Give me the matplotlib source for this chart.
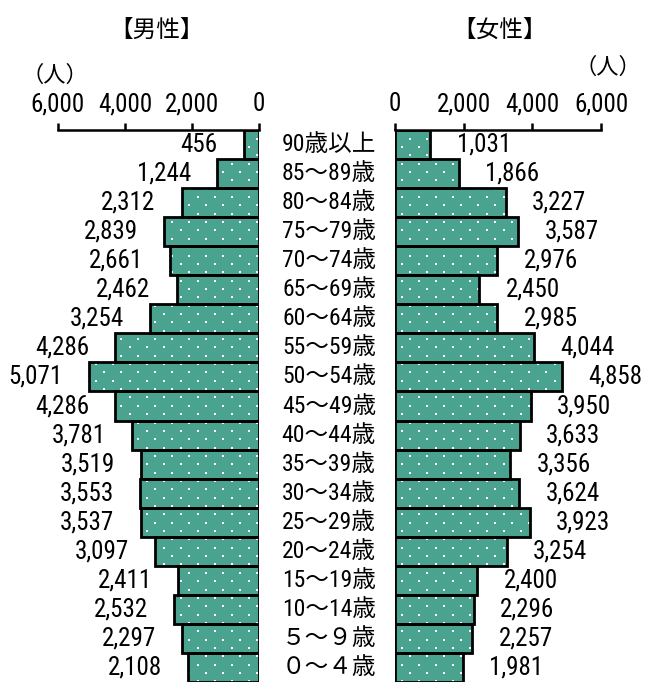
import matplotlib
matplotlib.use("Agg")
import matplotlib.pyplot as plt
import numpy as np
from matplotlib import font_manager
from matplotlib.path import Path
from matplotlib.transforms import IdentityTransform

available = {f.name for f in font_manager.fontManager.ttflist}
num_font = None
for cand in ["Liberation Sans Narrow", "DejaVu Sans Condensed", "Roboto Condensed"]:
    if cand in available:
        num_font = cand
        break
FAM = ([num_font] if num_font else []) + ["Noto Sans CJK JP", "DejaVu Sans"]
plt.rcParams['font.family'] = FAM

age_groups = ["90歳以上", "85～89歳", "80～84歳", "75～79歳", "70～74歳", "65～69歳",
              "60～64歳", "55～59歳", "50～54歳", "45～49歳", "40～44歳", "35～39歳",
              "30～34歳", "25～29歳", "20～24歳", "15～19歳", "10～14歳", "５～９歳", "０～４歳"]
male = [456, 1244, 2312, 2839, 2661, 2462, 3254, 4286, 5071, 4286, 3781, 3519,
        3553, 3537, 3097, 2411, 2532, 2297, 2108]
female = [1031, 1866, 3227, 3587, 2976, 2450, 2985, 4044, 4858, 3950, 3633, 3356,
          3624, 3923, 3254, 2400, 2296, 2257, 1981]
ticks = [0, 2000, 4000, 6000]
tick_labels = ["0", "2,000", "4,000", "6,000"]

W, H = 647, 684
fig = plt.figure(figsize=(W / 100, H / 100), dpi=100)

GREEN = "#4aa38e"
FS = 18 if num_font else 16
CJK_FS = 16

def px(x, y):
    return x / W, 1 - y / H

y_top, y_bot = 130, 682
axL = fig.add_axes([58 / W, (H - y_bot) / H, 201 / W, (y_bot - y_top) / H])
axR = fig.add_axes([395 / W, (H - y_bot) / H, 206 / W, (y_bot - y_top) / H])

n = len(age_groups)
pos = list(range(n))

# dot texture lattice in display pixels (staggered rows)
dx, dy = 17.0, 8.35
rows = np.arange(0, H / dy + 1)
lat_x, lat_y = [], []
for r in rows:
    off = (dx / 2) if int(r) % 2 else 0.0
    xs = np.arange(off + 2, W, dx)
    lat_x.extend(xs)
    lat_y.extend(np.full(len(xs), H - (5 + r * dy)))
lat_x = np.array(lat_x)
lat_y = np.array(lat_y)

for ax, vals, side in [(axL, male, "L"), (axR, female, "R")]:
    bars = ax.barh(pos, vals, height=1.0, color=GREEN, linewidth=0)
    ax.set_xlim(0, 6000)
    ax.set_ylim(n - 0.5, -0.5)
    if side == "L":
        ax.invert_xaxis()
    paths = [p.get_path().transformed(p.get_patch_transform()) for p in bars]
    clip = Path.make_compound_path(*paths)
    dots = ax.scatter(lat_x, lat_y, s=2.8, marker="s", c="white", linewidths=0,
                      transform=IdentityTransform(), zorder=2)
    dots.set_clip_path(clip, ax.transData)
    ax.barh(pos, vals, height=1.0, fill=False, edgecolor="black", linewidth=2, zorder=3)
    if side == "L":
        ax.set_xlim(6000, 0)
    else:
        ax.set_xlim(0, 6000)
    ax.set_ylim(n - 0.5, -0.5)
    for s in ["left", "right", "bottom"]:
        ax.spines[s].set_visible(False)
    ax.spines["top"].set_linewidth(1.8)
    ax.xaxis.tick_top()
    ax.set_xticks(ticks)
    ax.set_xticklabels(tick_labels, fontsize=FS)
    ax.tick_params(axis="x", direction="out", length=5, width=1.8, pad=5)
    ax.set_yticks([])
    ax.patch.set_alpha(0)
    for i, v in enumerate(vals):
        label = f"{v:,}"
        if side == "L":
            ax.annotate(label, (v, i), xytext=(-19, 0), textcoords="offset points",
                        ha="right", va="center", fontsize=FS)
        else:
            ax.annotate(label, (v, i), xytext=(19, 0), textcoords="offset points",
                        ha="left", va="center", fontsize=FS)

for i, g in enumerate(age_groups):
    axL.annotate(g, (0, i), xytext=(376 - 259, 0), textcoords="offset pixels",
                 ha="right", va="center", fontsize=CJK_FS + 1, annotation_clip=False)

fig.text(*px(157, 30), "【男性】", ha="center", va="center", fontsize=CJK_FS + 1)
fig.text(*px(500, 30), "【女性】", ha="center", va="center", fontsize=CJK_FS + 1)
fig.text(*px(55, 76), "（人）", ha="center", va="center", fontsize=CJK_FS)
fig.text(*px(608, 68), "（人）", ha="center", va="center", fontsize=CJK_FS)

fig.savefig("out.png", dpi=100)
